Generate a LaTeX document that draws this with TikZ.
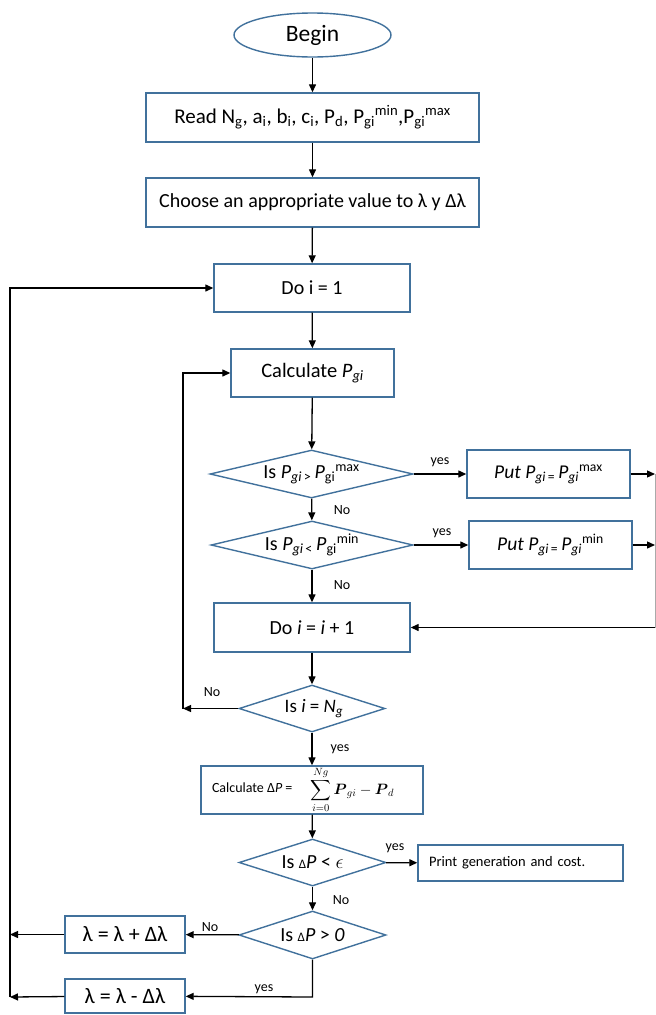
\RequirePackage{fix-cm}
\documentclass[tikz,border=0pt]{standalone}
\usepackage{amsmath}
\usepackage{fontspec}
\setmainfont{Carlito}
\usetikzlibrary{shapes.geometric,arrows.meta}
\definecolor{boxblue}{RGB}{65,113,156}
\definecolor{linegrey}{RGB}{170,170,170}
\newcommand{\fs}[1]{\fontsize{#1}{#1}\selectfont}
\tikzset{
  x=1pt,y=-1pt,
  box/.style={draw=boxblue,line width=1.4pt,rectangle,inner sep=0pt,font=\fs{19.5}},
  dia/.style={draw=boxblue,line width=1.4pt,diamond,inner sep=0pt,font=\fs{20}},
  arr/.style={-{Triangle[length=8pt,width=7pt]},line width=1.3pt},
  lbl/.style={font=\fs{14},inner sep=0pt}
}
\begin{document}
\begin{tikzpicture}
\useasboundingbox (0,0) rectangle (656,1015);
% nodes
\node[draw=boxblue,line width=1.4pt,ellipse,inner sep=0pt,minimum width=157pt,minimum height=44pt,font=\fs{23.5}] (begin) at (312.5,35) {Begin};
\node[box,minimum width=333pt,minimum height=49pt,font=\fs{21}] (read) at (312.5,117.5) {Read N\textsubscript{g}, a\textsubscript{i}, b\textsubscript{i}, c\textsubscript{i}, P\textsubscript{d}, P\textsubscript{gi}\textsuperscript{min},P\textsubscript{gi}\textsuperscript{max}};
\node[box,minimum width=333pt,minimum height=49pt,font=\fs{20}] (choose) at (312.5,202.5) {Choose an appropriate value to λ y Δλ};
\node[box,minimum width=196pt,minimum height=48pt,font=\fs{20}] (doone) at (312,288) {Do i = 1};
\node[box,minimum width=163pt,minimum height=48pt,font=\fs{20.5}] (calc) at (312.5,373) {Calculate \textit{P}\textsubscript{\textit{gi}}};
\node[dia,minimum width=203pt,minimum height=48pt,aspect=4.2] (dmax) at (311.5,474) {Is \textit{P}\textsubscript{\textit{gi}\,>}\,\textit{P}\textsubscript{gi}\textsuperscript{max}};
\node[dia,minimum width=202pt,minimum height=48pt,aspect=4.2] (dmin) at (312,545) {Is \textit{P}\textsubscript{\textit{gi}\,<}\,\textit{P}\textsubscript{gi}\textsuperscript{min}};
\node[box,minimum width=163pt,minimum height=48pt] (putmax) at (548.5,474) {\textit{Put P}\textsubscript{\textit{gi}\,=}\,\textit{P}\textsubscript{\textit{gi}}\textsuperscript{max}};
\node[box,minimum width=163pt,minimum height=48pt] (putmin) at (550.5,545) {\textit{Put P}\textsubscript{\textit{gi}\,=}\,\textit{P}\textsubscript{\textit{gi}}\textsuperscript{min}};
\node[box,minimum width=196pt,minimum height=49pt,font=\fs{20}] (doinc) at (312,627.5) {Do \textit{i} = \textit{i} + 1};
\node[dia,minimum width=146pt,minimum height=47pt,aspect=3.1,font=\fs{19}] (dN) at (312,708.5) {\hspace{4pt}Is \textit{i} = \textit{N}\textsubscript{\textit{g}}};
\node[box,minimum width=222pt,minimum height=48pt] (calcdp) at (312,790) {\makebox[200pt][l]{\fs{14}Calculate Δ\textit{P} =\hspace{18pt}\fs{15}\raisebox{-2.5pt}{$\displaystyle\sum_{i=0}^{\raisebox{1pt}{$\scriptstyle Ng$}}\boldsymbol{P}_{gi}-\boldsymbol{P}_{d}$}}};
\node[dia,minimum width=147pt,minimum height=47pt,aspect=3.1] (deps) at (312.5,862.5) {Is {\fs{13}Δ}\textit{P} < $\epsilon$};
\node[box,minimum width=205pt,minimum height=36pt,font=\fs{14.5},align=left,text width=183pt] (print) at (520.5,863) {Print generation and cost.};
\node[dia,minimum width=147pt,minimum height=48pt,aspect=3.1] (dpos) at (312.5,935) {Is {\fs{13}Δ}\textit{P} > \textit{0}};
\node[box,minimum width=120pt,minimum height=37pt,font=\fs{22}] (lplus) at (125,934.5) {λ = λ + Δλ};
\node[box,minimum width=120pt,minimum height=34pt,font=\fs{22}] (lminus) at (125,996) {λ = λ - Δλ};
% coordinates
\coordinate (rtop) at (655,474);
\coordinate (rmid) at (655,545);
\coordinate (rbot) at (655,627.5);
\coordinate (lnocorner) at (183,708.5);
\coordinate (lnotop) at (183,373);
\coordinate (ybot) at (312.5,997);
\coordinate (lplusend) at (10,934.5);
\coordinate (lminusend) at (10,997);
\coordinate (ltop) at (10,288);
% connectors
\draw[arr] (begin) -- (read);
\draw[arr] (read) -- (choose);
\draw[arr] (choose) -- (doone);
\draw[arr] (doone) -- (calc);
\draw[arr] (calc) -- (dmax);
\draw[arr] (dmax) -- (dmin);
\draw[arr] (dmin) -- (doinc);
\draw[arr] (dmax) -- (putmax);
\draw[arr] (dmin) -- (putmin);
\draw[arr] (putmax) -- (rtop);
\draw[arr] (putmin) -- (rmid);
\draw[line width=0.9pt,linegrey] (rtop) -- (rbot);
\draw[arr] (rbot) -- (doinc);
\draw[arr] (doinc) -- (dN);
\draw[arr] (dN) -- (lnocorner);
\draw[arr] (lnocorner) -- (lnotop) -- (calc);
\draw[arr] (dN) -- (calcdp);
\draw[arr] (calcdp) -- (deps);
\draw[arr] (deps) -- (print);
\draw[arr] (deps) -- (dpos);
\draw[arr] (dpos) -- (lplus);
\draw[arr] (dpos.south) -- (ybot) -- (lminus);
\draw[arr] (lplus) -- (lplusend);
\draw[arr] (lminus) -- (lminusend);
\draw[arr] (lminusend) -- (ltop) -- (doone);
% labels
\node[lbl] (y1) at (440,462) {yes};
\node[lbl] (y2) at (442,533) {yes};
\node[lbl] (n1) at (342,510) {No};
\node[lbl] (n2) at (342,585) {No};
\node[lbl] (n3) at (212,692) {No};
\node[lbl] (y3) at (340,749) {yes};
\node[lbl] (y4) at (395,848) {yes};
\node[lbl] (n4) at (341,900) {No};
\node[lbl] (n5) at (210,927) {No};
\node[lbl] (y5) at (264,989) {yes};
\end{tikzpicture}
\end{document}
